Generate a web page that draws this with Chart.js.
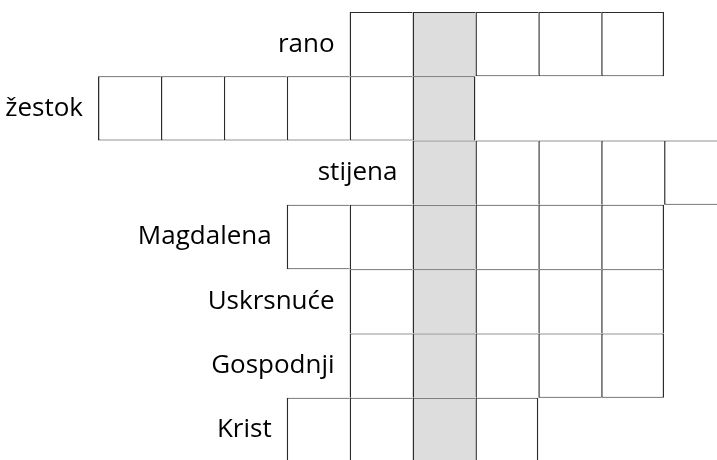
<!DOCTYPE html>
<html>
<head>
<meta charset="utf-8">
<script src="https://cdn.jsdelivr.net/npm/chart.js@4"></script>
<style>
  html, body { margin: 0; padding: 0; background: #fff; overflow: hidden; }
</style>
</head>
<body>
<canvas id="myChart" width="760" height="480"></canvas>
<script>
// crossword rows: clue word, first column (1-based), number of cells
const clues = ['rano', 'žestok', 'stijena', 'Magdalena', 'Uskrsnuće', 'Gospodnji', 'Krist'];
const rowStart = [5, 1, 6, 4, 5, 5, 4];
const rowLength = [5, 6, 5, 6, 5, 5, 4];
const numCols = 10;
const solutionCol = 6; // shaded column

function hasCell(r, c) {
    if (r < 0 || r >= clues.length) return false;
    return c >= rowStart[r] && c < rowStart[r] + rowLength[r];
}

// one dataset per column, a floating bar per row
const datasets = [];
for (let c = 1; c <= numCols; c++) {
    datasets.push({
        data: clues.map((w, r) => hasCell(r, c) ? [c - 1, c] : null),
        backgroundColor: c === solutionCol ? '#dddddd' : '#ffffff',
        borderColor: '#2b2b2b',
        borderSkipped: false,
        inflateAmount: 0,
        borderWidth: function(ctx) {
            const r = ctx.dataIndex;
            return {
                left: 1.5,
                top: 1,
                right: hasCell(r, c + 1) ? 0 : 1.5,
                bottom: hasCell(r + 1, c) ? 0 : 1
            };
        },
        barPercentage: 1,
        categoryPercentage: 1,
        grouped: false
    });
}

// clue words to the left of each row
const clueLabels = {
    id: 'clueLabels',
    afterDatasetsDraw(chart) {
        const ctx = chart.ctx;
        const x = chart.scales.x, y = chart.scales.y;
        ctx.save();
        ctx.font = '26px "Open Sans"';
        ctx.fillStyle = '#000';
        ctx.textAlign = 'right';
        ctx.textBaseline = 'middle';
        clues.forEach((w, r) => {
            ctx.fillText(w, x.getPixelForValue(rowStart[r] - 1) - 15, y.getPixelForValue(r));
        });
        ctx.restore();
    }
};

const ctx = document.getElementById('myChart').getContext('2d');
const myChart = new Chart(ctx, {
    type: 'bar',
    data: { labels: clues, datasets: datasets },
    options: {
        indexAxis: 'y',
        responsive: false,
        animation: false,
        events: [],
        layout: { padding: { left: 98, right: 33, top: 12, bottom: 18 } },
        scales: {
            x: { type: 'linear', min: 0, max: numCols, display: false },
            y: { display: false }
        },
        plugins: { legend: { display: false }, tooltip: { enabled: false } }
    },
    plugins: [clueLabels]
});
</script>
</body>
</html>
